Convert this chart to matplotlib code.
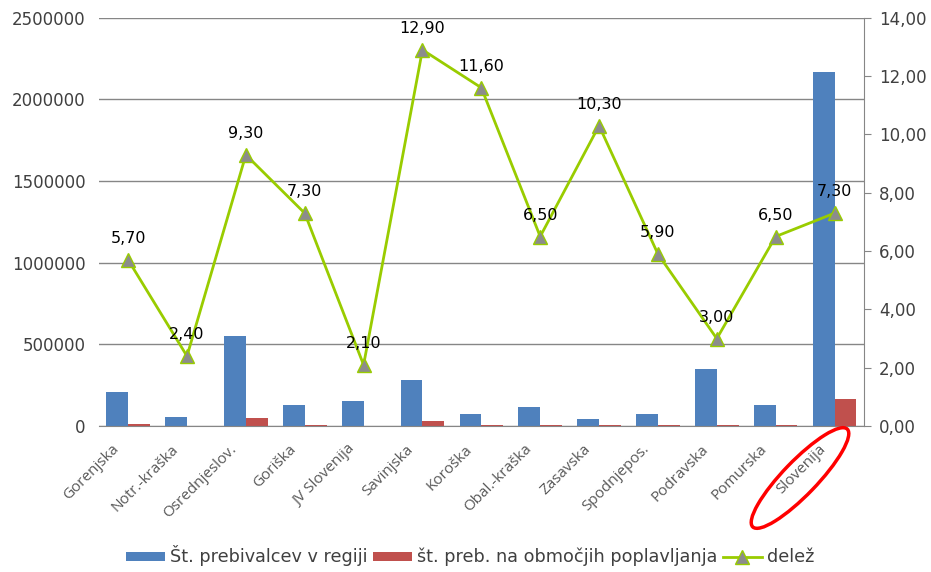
import numpy as np
import matplotlib.pyplot as plt
from matplotlib.patches import Ellipse
from matplotlib.transforms import IdentityTransform, ScaledTranslation

# regije
regije = ["Gorenjska", "Notr.-kraška", "Osrednjeslov.", "Goriška", "JV Slovenija",
          "Savinjska", "Koroška", "Obal.-kraška", "Zasavska", "Spodnjepos.",
          "Podravska", "Pomurska", "Slovenija"]
prebivalci = [208000, 55000, 551000, 129000, 153000, 282000, 74000, 116000,
              43000, 74000, 349000, 129000, 2169000]
poplave = [12000, 1000, 49000, 9000, 1000, 31000, 8000, 8000, 8000, 8000,
           8000, 8000, 165000]
delez = [5.7, 2.4, 9.3, 7.3, 2.1, 12.9, 11.6, 6.5, 10.3, 5.9, 3.0, 6.5, 7.3]
levo_ticks = [0, 500000, 1000000, 1500000, 2000000, 2500000]
desno_ticks = [0, 2, 4, 6, 8, 10, 12, 14]

c_blue = "#4F81BD"
c_red = "#C0504D"
c_green = "#99CC00"
c_grid = "#868686"
c_text = "#404040"

fig = plt.figure(figsize=(9.31, 5.72), dpi=100)
ax = fig.add_axes([0.106, 0.255, 0.822, 0.714])
ax2 = ax.twinx()

x = np.arange(len(regije))
w = 0.37
ax.bar(x - w/2, prebivalci, w, color=c_blue, zorder=2, label="Št. prebivalcev v regiji")
ax.bar(x + w/2, poplave, w, color=c_red, zorder=2, label="št. preb. na območjih poplavljanja")
ax.set_xlim(-0.5, len(regije) - 0.5)
ax.set_ylim(0, 2500000)
ax.set_yticks(levo_ticks)
ax.set_yticklabels([str(v) for v in levo_ticks])
ax.yaxis.grid(True, color=c_grid, lw=1)
ax.set_axisbelow(True)
ax.tick_params(axis="y", length=0, labelsize=12, labelcolor=c_text, pad=9.5)
ax.tick_params(axis="x", length=0, labelcolor="#595959", pad=0)
ax.set_xticks(x)
ax.set_xticklabels(regije, rotation=45, ha="right", va="center",
                   rotation_mode="anchor", fontsize=11, family="Open Sans")
# premik oznak kot v Excelu
zamik = ScaledTranslation(-0.11, -0.21, fig.dpi_scale_trans)
for lbl in ax.get_xticklabels():
    lbl.set_transform(lbl.get_transform() + zamik)
for s in ["top", "left", "right"]:
    ax.spines[s].set_visible(False)
ax.spines["bottom"].set_color(c_grid)

ax2.plot(x, delez, color=c_green, lw=2, marker="^", markersize=10,
         markerfacecolor="#8C8C8C", markeredgecolor=c_green, markeredgewidth=1,
         label="delež", zorder=3)
for xi, v in zip(x, delez):
    ax2.annotate(f"{v:.2f}".replace(".", ","), (xi, v), xytext=(0, 10),
                 textcoords="offset points", ha="center", va="bottom",
                 fontsize=11.5, color="black")
ax2.set_ylim(0, 14)
ax2.set_yticks(desno_ticks)
ax2.set_yticklabels([f"{v:.2f}".replace(".", ",") for v in desno_ticks])
ax2.tick_params(axis="y", direction="out", length=5, color=c_grid,
                labelsize=12, labelcolor=c_text, pad=6)
for s in ["top", "left", "bottom"]:
    ax2.spines[s].set_visible(False)
ax2.spines["right"].set_color(c_grid)

# rdeča elipsa okoli Slovenije
fig.patches.append(Ellipse((800, 94), 136, 34, angle=46,
                           transform=IdentityTransform(), fill=False,
                           edgecolor="red", lw=2.5))

h1, l1 = ax.get_legend_handles_labels()
h2, l2 = ax2.get_legend_handles_labels()
fig.legend(h1 + h2, l1 + l2, loc="center", bbox_to_anchor=(0.505, 0.028), ncol=3,
           frameon=False, fontsize=12.7, handlelength=2.2, handleheight=0.4,
           handletextpad=0.3, columnspacing=0.3, labelcolor=c_text,
           borderaxespad=0)

fig.savefig("out.png", dpi=100)
